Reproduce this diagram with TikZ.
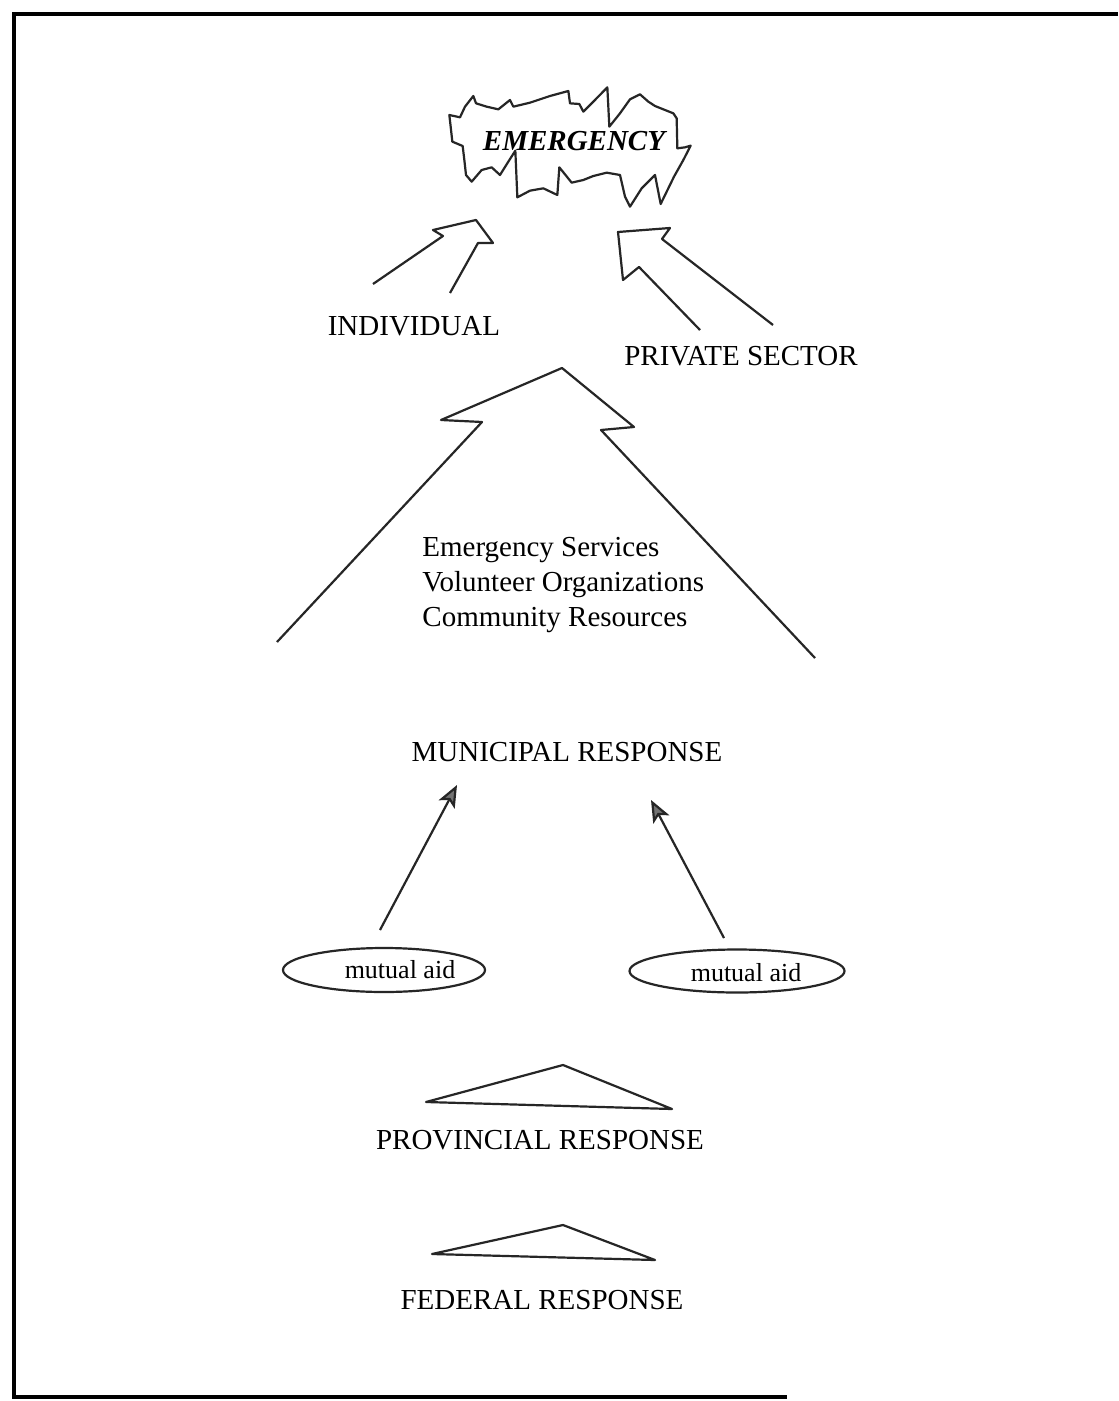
\documentclass[tikz,border=0pt]{standalone}
\usepackage{fontspec}
\setmainfont{Liberation Serif}
\usetikzlibrary{shapes.geometric,arrows.meta}
\begin{document}
\begin{tikzpicture}[x=0.5pt,y=-0.5pt,
  outline/.style={draw=black!85,line width=1.1pt,line join=round},
  frameline/.style={draw=black,line width=1.6pt},
  caplabel/.style={inner sep=0pt,font=\fontsize{14.5}{17.5}\selectfont},
  aidtext/.style={inner sep=0pt,font=\fontsize{13}{15}\selectfont},
  aidring/.style={draw=black!85,line width=1.1pt,ellipse,inner sep=0pt},
  feeder/.style={draw=black!85,line width=1.1pt,-{Stealth[length=11pt,width=9pt,inset=2.5pt,fill=black!55]}}]

% page area
\useasboundingbox (0,0) rectangle (1118,1401);
\fill[white] (0,0) rectangle (1118,1401);

% open frame: top, left and part of the bottom
\draw[frameline] (1118,14) -- (14,14) -- (14,1397) -- (787,1397);

% burst round the emergency
\begin{scope}[shift={(420,60)},scale=1/3]
\draw[outline,line width=1.1pt]
 (88,165) -- (120,172) -- (135,140) -- (160,108) -- (168,130) -- (200,140)
 -- (235,148) -- (270,120) -- (280,140) -- (330,128) -- (390,108) -- (445,93)
 -- (450,130) -- (478,132) -- (490,155) -- (520,125) -- (562,82) -- (568,200)
 -- (600,160) -- (630,118) -- (660,103) -- (685,125) -- (705,138) -- (730,148)
 -- (760,160) -- (770,175) -- (772,265) -- (795,262) -- (812,257) -- (790,300)
 -- (762,350) -- (722,432) -- (705,345) -- (665,385) -- (630,440) -- (615,410)
 -- (600,345) -- (560,338) -- (520,348) -- (490,360) -- (455,368) -- (418,322)
 -- (412,405) -- (370,385) -- (330,392) -- (292,412) -- (286,272) -- (265,305)
 -- (240,345) -- (215,322) -- (185,330) -- (155,365) -- (138,345) -- (133,300)
 -- (128,258) -- (97,245) -- (92,200) -- cycle;
\end{scope}
\node[inner sep=0pt,font=\fontsize{14.5}{17.5}\selectfont\bfseries\itshape] (emerg) at (574,141) {EMERGENCY};

% hollow arrow from the individual
\draw[outline] (373,284) -- (443,236) -- (433,230) -- (476,220) -- (493,243)
  -- (478,243) -- (450,293);
\node[caplabel] (indiv) at (414,326) {INDIVIDUAL};

% hollow arrow from the private sector
\draw[outline] (773,325) -- (662,239) -- (670,228) -- (618,232) -- (623,280)
  -- (639,267) -- (700,330);
\node[caplabel] (priv) at (741,356) {PRIVATE SECTOR};

% large open arrow of the municipal level
\draw[outline] (277,642) -- (482,422) -- (441,420) -- (562,368) -- (634,427)
  -- (601,430) -- (815,658);
\node[caplabel,anchor=west,align=left] (res) at (422,585)
  {Emergency Services\\Volunteer Organizations\\Community Resources};

\node[caplabel] (muni) at (567,752) {MUNICIPAL RESPONSE};

% mutual aid
\node[aidring,minimum width=101pt,minimum height=22pt] (ring1) at (384,970) {};
\node[aidtext] (aid1) at (400,970) {mutual aid};
\node[aidring,minimum width=107.5pt,minimum height=21.5pt] (ring2) at (737,971) {};
\node[aidtext] (aid2) at (746,973) {mutual aid};

\coordinate (f1s) at (380,930);
\coordinate (f1e) at (457,785);
\coordinate (f2s) at (724,938);
\coordinate (f2e) at (651,800);
\draw[feeder] (f1s) -- (f1e);
\draw[feeder] (f2s) -- (f2e);

% provincial level
\draw[outline] (426,1102) -- (563,1065) -- (672,1109) -- cycle;
\node[caplabel] (prov) at (540,1140) {PROVINCIAL RESPONSE};

% federal level
\draw[outline] (432,1254) -- (563,1225) -- (655,1260) -- cycle;
\node[caplabel] (fed) at (542,1300) {FEDERAL RESPONSE};

\end{tikzpicture}
\end{document}
